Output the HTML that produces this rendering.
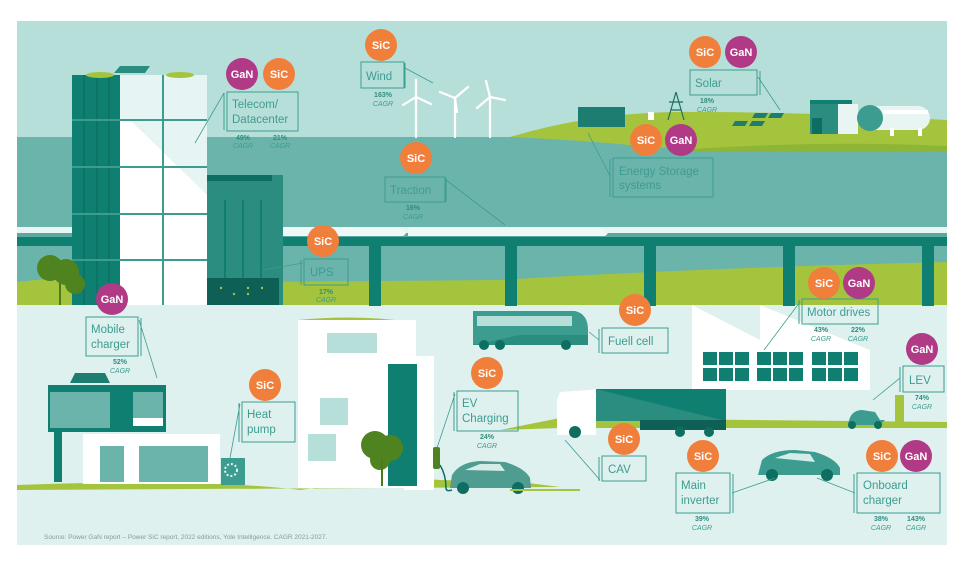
<!DOCTYPE html>
<html><head><meta charset="utf-8"><style>
html,body{margin:0;padding:0;background:#fff;width:965px;height:562px;overflow:hidden}
svg{display:block;font-family:"Liberation Sans",sans-serif}
.lb{fill:none;stroke:#3d9c90;stroke-width:1}
.lt{fill:#3d9c90;font-size:11.5px}
.pc{fill:#2f8d80;font-size:7px;font-weight:bold;text-anchor:middle}
.cg{fill:#3d9c90;font-size:7px;font-style:italic;text-anchor:middle}
.bt{fill:#fff;font-size:11px;font-weight:bold;text-anchor:middle}
.ln{stroke:#3d9c90;stroke-width:0.8;fill:none}
</style></head><body>
<svg width="965" height="562" viewBox="0 0 965 562">
<rect width="965" height="562" fill="#fff"/>
<!-- sky -->
<rect x="17" y="21" width="930" height="120" fill="#b7dfd9"/>
<!-- teal band -->
<rect x="17" y="137" width="930" height="170" fill="#6bb4ab"/>
<!-- top green hill right -->
<path d="M510 137 Q600 110 700 112 Q800 112 947 120 L947 150 Q800 150 700 150 L640 146 Q580 140 510 137Z" fill="#a4c43e"/>
<path d="M680 150 Q820 140 947 146 L947 152 L680 152Z" fill="#8fb536"/>
<!-- lower green hill of middle band -->
<path d="M17 282 Q120 270 250 282 L500 280 Q700 268 947 262 L947 307 L17 307Z" fill="#a4c43e"/>
<!-- lower ground -->
<rect x="17" y="305" width="930" height="240" fill="#def1ef"/>
<!-- train bridge -->
<rect x="17" y="227" width="930" height="6" fill="#e8f5f3"/>
<rect x="17" y="233" width="930" height="4" fill="#5aa89f"/>
<rect x="17" y="237" width="930" height="9" fill="#0e7f70"/>
<g fill="#0e7f70">
<rect x="369" y="246" width="12" height="60"/><rect x="505" y="246" width="12" height="60"/>
<rect x="644" y="246" width="12" height="60"/><rect x="783" y="246" width="12" height="60"/>
<rect x="922" y="246" width="12" height="60"/>
</g>
<!-- wind turbines -->
<g stroke="#fff" stroke-width="2.2" fill="none" stroke-linecap="round">
<line x1="416" y1="97" x2="416" y2="137"/><line x1="416" y1="97" x2="416" y2="80"/><line x1="416" y1="97" x2="403" y2="105"/><line x1="416" y1="97" x2="431" y2="104"/>
<line x1="455" y1="98" x2="455" y2="137"/><line x1="455" y1="98" x2="468" y2="87"/><line x1="455" y1="98" x2="440" y2="92"/><line x1="455" y1="98" x2="457" y2="112"/>
<line x1="490" y1="97" x2="490" y2="137"/><line x1="490" y1="97" x2="486" y2="81"/><line x1="490" y1="97" x2="477" y2="108"/><line x1="490" y1="97" x2="505" y2="100"/>
</g>
<!-- energy storage container, pylon, solar, H2 -->
<rect x="578" y="107" width="47" height="20" fill="#1d7d70"/>
<path d="M676 92 L668 120 M676 92 L684 120 M669 102 L683 102 M671 110 L681 110" stroke="#1d6e63" stroke-width="1.2" fill="none"/>
<rect x="648" y="112" width="6" height="8" fill="#fff"/>
<g fill="#1d7d70"><path d="M735 121 L748 121 L745 126 L732 126Z"/><path d="M752 121 L765 121 L762 126 L749 126Z"/><path d="M755 113 L768 113 L765 118 L752 118Z"/><path d="M771 113 L784 113 L781 118 L768 118Z"/></g>
<rect x="810" y="102" width="42" height="32" fill="#2a8d80"/><rect x="810" y="100" width="42" height="4" fill="#0e7f70"/>
<rect x="812" y="118" width="10" height="16" fill="#0e6e62"/>
<rect x="838" y="104" width="20" height="30" fill="#e8f5f3"/>
<rect x="858" y="106" width="72" height="24" rx="12" fill="#e8f5f3"/>
<circle cx="870" cy="118" r="13" fill="#3d9c90"/>
<rect x="883" y="110" width="45" height="4" fill="#fff"/>
<rect x="890" y="128" width="4" height="8" fill="#fff"/><rect x="918" y="128" width="4" height="8" fill="#fff"/>
<!-- tall building -->
<rect x="72" y="75" width="48" height="230" fill="#0e7f70"/>
<g stroke="#0a6a5d" stroke-width="1"><line x1="84" y1="75" x2="84" y2="305"/><line x1="97" y1="75" x2="97" y2="305"/><line x1="109" y1="75" x2="109" y2="305"/></g>
<rect x="120" y="75" width="87" height="230" fill="#fff"/>
<path d="M120 75 L207 75 L207 195 L130 120 L120 120Z" fill="#e6f5f3"/>
<g stroke="#3d9c90" stroke-width="2"><line x1="163" y1="75" x2="163" y2="305"/>
<line x1="72" y1="120" x2="207" y2="120"/><line x1="72" y1="167" x2="207" y2="167"/><line x1="72" y1="214" x2="207" y2="214"/><line x1="72" y1="260" x2="207" y2="260"/></g>
<path d="M114 73 L120 66 L150 66 L145 73Z" fill="#2a8d80"/>
<ellipse cx="100" cy="75" rx="14" ry="3" fill="#a4c43e"/><ellipse cx="180" cy="75" rx="14" ry="3" fill="#a4c43e"/>
<!-- second building -->
<rect x="207" y="175" width="76" height="130" fill="#2a8d80"/>
<rect x="207" y="175" width="65" height="6" fill="#0e6e62"/>
<g stroke="#0e7f70" stroke-width="2"><line x1="225" y1="200" x2="225" y2="280"/><line x1="243" y1="200" x2="243" y2="280"/><line x1="261" y1="200" x2="261" y2="280"/></g>
<rect x="207" y="278" width="72" height="27" fill="#0e5f55"/>
<g fill="#a4c43e"><circle cx="221" cy="288" r="1.2"/><circle cx="234" cy="294" r="1.2"/><circle cx="248" cy="288" r="1.2"/><circle cx="248" cy="294" r="1.2"/><circle cx="262" cy="288" r="1.2"/></g>
<!-- tree left -->
<path d="M60 305 L60 275" stroke="#4e7a1e" stroke-width="2"/>
<circle cx="50" cy="268" r="13" fill="#4f8320"/><circle cx="66" cy="272" r="13" fill="#4f8320"/><circle cx="75" cy="284" r="10" fill="#4f8320"/>
<!-- train body -->
<path d="M283 228 L400 228 Q410 232 403 236 L283 236Z" fill="#eef8f6"/>
<path d="M408 228 L600 228 Q612 232 605 236 L408 236Z" fill="#eef8f6"/>
<!-- lower scene: house left -->
<path d="M17 485 Q200 478 300 490 Q400 476 440 480 L520 482 L560 487 L17 490Z" fill="#a4c43e"/>
<rect x="48" y="385" width="118" height="47" fill="#0e7f70"/>
<rect x="50" y="392" width="60" height="36" fill="#6bb4ab"/><rect x="133" y="392" width="30" height="26" fill="#6bb4ab"/><rect x="133" y="418" width="30" height="8" fill="#fff"/>
<rect x="54" y="432" width="8" height="50" fill="#0e7f70"/>
<rect x="83" y="434" width="137" height="50" fill="#fff"/>
<rect x="100" y="446" width="24" height="36" fill="#6bb4ab"/><rect x="139" y="446" width="69" height="36" fill="#6bb4ab"/>
<path d="M70 383 L75 373 L105 373 L110 383Z" fill="#1d7d70"/>
<rect x="221" y="458" width="24" height="27" fill="#3d9c90"/><circle cx="231" cy="470" r="6" fill="none" stroke="#e6f5f3" stroke-width="2" stroke-dasharray="2 2"/>
<!-- house middle -->
<rect x="298" y="320" width="118" height="168" fill="#fff"/>
<rect x="327" y="333" width="50" height="20" fill="#b7dfd9"/>
<rect x="320" y="398" width="28" height="27" fill="#b7dfd9"/><rect x="308" y="434" width="28" height="27" fill="#b7dfd9"/>
<rect x="404" y="356" width="30" height="134" fill="#fff"/>
<rect x="388" y="364" width="29" height="122" fill="#0e7f70"/>
<path d="M298 320 Q350 315 395 320 Z" fill="#a4c43e"/>
<circle cx="375" cy="445" r="14" fill="#4f8320"/><circle cx="390" cy="448" r="13" fill="#4f8320"/><circle cx="380" cy="460" r="10" fill="#4f8320"/>
<line x1="382" y1="460" x2="382" y2="486" stroke="#4e7a1e" stroke-width="2"/>
<!-- charger & car left -->
<rect x="433" y="447" width="7" height="22" rx="2" fill="#4f8320"/>
<path d="M440 465 Q446 475 446 488 Q446 492 452 490" stroke="#0e6e62" stroke-width="1.5" fill="none"/>
<path d="M450 488 L452 475 Q460 462 480 461 L505 462 Q525 468 530 478 L531 488Z" fill="#4f9c90"/>
<path d="M465 470 L480 464 L500 464 L505 471Z" fill="#d5ede9"/>
<circle cx="463" cy="488" r="6" fill="#0e6e62"/><circle cx="518" cy="488" r="6" fill="#0e6e62"/>
<path d="M510 490 L580 490" stroke="#a4c43e" stroke-width="2"/>
<!-- bus -->
<path d="M473 311 L575 311 Q588 314 588 330 L588 345 L473 345Z" fill="#3d9c90"/>
<rect x="477" y="316" width="95" height="10" fill="#b7dfd9"/>
<path d="M473 345 L588 345 L588 335 L520 335Z" fill="#2a8d80"/>
<circle cx="484" cy="345" r="5" fill="#0e6e62"/><circle cx="500" cy="345" r="5" fill="#0e6e62"/><circle cx="566" cy="345" r="5" fill="#0e6e62"/>
<!-- factory -->
<path d="M692 305 L760 340 L760 305 L870 350 L870 390 L692 390Z" fill="#fff"/>
<g fill="#0e7f70">
<rect x="703" y="352" width="14" height="13"/><rect x="719" y="352" width="14" height="13"/><rect x="735" y="352" width="14" height="13"/>
<rect x="757" y="352" width="14" height="13"/><rect x="773" y="352" width="14" height="13"/><rect x="789" y="352" width="14" height="13"/>
<rect x="812" y="352" width="14" height="13"/><rect x="828" y="352" width="14" height="13"/><rect x="844" y="352" width="14" height="13"/>
<rect x="703" y="368" width="14" height="13"/><rect x="719" y="368" width="14" height="13"/><rect x="735" y="368" width="14" height="13"/>
<rect x="757" y="368" width="14" height="13"/><rect x="773" y="368" width="14" height="13"/><rect x="789" y="368" width="14" height="13"/>
<rect x="812" y="368" width="14" height="13"/><rect x="828" y="368" width="14" height="13"/><rect x="844" y="368" width="14" height="13"/>
</g>
<path d="M500 430 L560 418 L947 422 L947 428 L560 428Z" fill="#a4c43e"/>
<!-- truck -->
<rect x="596" y="389" width="130" height="32" fill="#2a8d80"/>
<path d="M596 389 L726 389 L726 421Z" fill="#0e7f70"/>
<rect x="640" y="420" width="86" height="10" fill="#0e5f55"/>
<path d="M560 392 L590 390 L596 389 L596 435 L557 435 L557 400Z" fill="#fff"/>
<circle cx="575" cy="432" r="6" fill="#0e6e62"/><circle cx="680" cy="432" r="5" fill="#0e6e62"/><circle cx="709" cy="432" r="5" fill="#0e6e62"/>
<!-- scooter & charger -->
<rect x="895" y="395" width="9" height="30" fill="#a4c43e"/>
<path d="M848 425 Q850 410 862 410 L875 412 L880 420 L885 420 L880 425Z" fill="#3d9c90"/>
<circle cx="852" cy="425" r="4" fill="#0e6e62"/><circle cx="878" cy="425" r="4" fill="#0e6e62"/>
<!-- car right -->
<path d="M758 475 L762 460 Q772 450 795 450 L815 452 Q835 458 840 468 L840 475Z" fill="#3d9c90"/>
<path d="M775 458 L790 453 L810 454 L815 462Z" fill="#d5ede9"/>
<circle cx="772" cy="475" r="6" fill="#0e6e62"/><circle cx="827" cy="475" r="6" fill="#0e6e62"/>

<!-- LEADER LINES -->
<g class="ln">
<path d="M224 93 L195 143"/><path d="M405 68 L433 83"/><path d="M446 180 L505 225"/><path d="M303 263 L263 270"/>
<path d="M758 77 L780 110"/><path d="M610 176 L588 133"/><path d="M139 320 L157 378"/><path d="M240 404 L230 458"/>
<path d="M455 394 L437 448"/><path d="M599 340 L589 332"/><path d="M800 302 L764 350"/><path d="M900 378 L873 400"/>
<path d="M600 480 L565 440"/><path d="M732 493 L775 478"/><path d="M855 493 L817 478"/>
</g>

<!-- LABEL BOXES -->
<g class="lb">
<rect x="227" y="92" width="71" height="39"/><line x1="224" y1="93" x2="224" y2="130"/>
<rect x="361" y="62" width="43" height="26"/><line x1="405" y1="63" x2="405" y2="88"/>
<rect x="385" y="177" width="60" height="25"/><line x1="446" y1="178" x2="446" y2="202"/>
<rect x="304" y="259" width="44" height="26"/><line x1="301" y1="260" x2="301" y2="285"/>
<rect x="690" y="70" width="67" height="25"/><line x1="760" y1="71" x2="760" y2="95"/>
<rect x="613" y="158" width="100" height="39"/><line x1="610" y1="159" x2="610" y2="197"/>
<rect x="86" y="317" width="52" height="39"/><line x1="141" y1="318" x2="141" y2="356"/>
<rect x="242" y="402" width="53" height="40"/><line x1="239" y1="403" x2="239" y2="442"/>
<rect x="457" y="391" width="61" height="40"/><line x1="454" y1="392" x2="454" y2="431"/>
<rect x="602" y="328" width="66" height="25"/><line x1="599" y1="329" x2="599" y2="353"/>
<rect x="802" y="299" width="76" height="25"/><line x1="799" y1="300" x2="799" y2="324"/>
<rect x="903" y="366" width="41" height="26"/><line x1="900" y1="367" x2="900" y2="392"/>
<rect x="602" y="456" width="44" height="25"/><line x1="599" y1="457" x2="599" y2="481"/>
<rect x="676" y="473" width="54" height="40"/><line x1="733" y1="474" x2="733" y2="513"/>
<rect x="857" y="473" width="83" height="40"/><line x1="854" y1="474" x2="854" y2="513"/>
</g>
<g class="lt">
<text x="232" y="108">Telecom/</text><text x="232" y="123">Datacenter</text>
<text x="366" y="80">Wind</text>
<text x="390" y="194">Traction</text>
<text x="310" y="276">UPS</text>
<text x="695" y="87">Solar</text>
<text x="619" y="175">Energy Storage</text><text x="619" y="189">systems</text>
<text x="91" y="333">Mobile</text><text x="91" y="348">charger</text>
<text x="247" y="418">Heat</text><text x="247" y="433">pump</text>
<text x="462" y="407">EV</text><text x="462" y="422">Charging</text>
<text x="608" y="345">Fuell cell</text>
<text x="807" y="316">Motor drives</text>
<text x="909" y="384">LEV</text>
<text x="608" y="473">CAV</text>
<text x="681" y="489">Main</text><text x="681" y="504">inverter</text>
<text x="863" y="489">Onboard</text><text x="863" y="504">charger</text>
</g>
<!-- CAGR -->
<g>
<text class="pc" x="243" y="140">49%</text><text class="cg" x="243" y="148">CAGR</text>
<text class="pc" x="280" y="140">21%</text><text class="cg" x="280" y="148">CAGR</text>
<text class="pc" x="383" y="97">163%</text><text class="cg" x="383" y="106">CAGR</text>
<text class="pc" x="413" y="210">16%</text><text class="cg" x="413" y="219">CAGR</text>
<text class="pc" x="326" y="294">17%</text><text class="cg" x="326" y="302">CAGR</text>
<text class="pc" x="707" y="103">18%</text><text class="cg" x="707" y="112">CAGR</text>
<text class="pc" x="120" y="364">52%</text><text class="cg" x="120" y="373">CAGR</text>
<text class="pc" x="487" y="439">24%</text><text class="cg" x="487" y="448">CAGR</text>
<text class="pc" x="821" y="332">43%</text><text class="cg" x="821" y="341">CAGR</text>
<text class="pc" x="858" y="332">22%</text><text class="cg" x="858" y="341">CAGR</text>
<text class="pc" x="922" y="400">74%</text><text class="cg" x="922" y="409">CAGR</text>
<text class="pc" x="702" y="521">39%</text><text class="cg" x="702" y="530">CAGR</text>
<text class="pc" x="881" y="521">38%</text><text class="cg" x="881" y="530">CAGR</text>
<text class="pc" x="916" y="521">143%</text><text class="cg" x="916" y="530">CAGR</text>
</g>
<!-- BADGES -->
<g>
<circle cx="242" cy="74" r="16" fill="#b03a85"/><text class="bt" x="242" y="78">GaN</text>
<circle cx="279" cy="74" r="16" fill="#f07f3c"/><text class="bt" x="279" y="78">SiC</text>
<circle cx="381" cy="45" r="16" fill="#f07f3c"/><text class="bt" x="381" y="49">SiC</text>
<circle cx="416" cy="158" r="16" fill="#f07f3c"/><text class="bt" x="416" y="162">SiC</text>
<circle cx="323" cy="241" r="16" fill="#f07f3c"/><text class="bt" x="323" y="245">SiC</text>
<circle cx="705" cy="52" r="16" fill="#f07f3c"/><text class="bt" x="705" y="56">SiC</text>
<circle cx="741" cy="52" r="16" fill="#b03a85"/><text class="bt" x="741" y="56">GaN</text>
<circle cx="646" cy="140" r="16" fill="#f07f3c"/><text class="bt" x="646" y="144">SiC</text>
<circle cx="681" cy="140" r="16" fill="#b03a85"/><text class="bt" x="681" y="144">GaN</text>
<circle cx="112" cy="299" r="16" fill="#b03a85"/><text class="bt" x="112" y="303">GaN</text>
<circle cx="265" cy="385" r="16" fill="#f07f3c"/><text class="bt" x="265" y="389">SiC</text>
<circle cx="487" cy="373" r="16" fill="#f07f3c"/><text class="bt" x="487" y="377">SiC</text>
<circle cx="635" cy="310" r="16" fill="#f07f3c"/><text class="bt" x="635" y="314">SiC</text>
<circle cx="824" cy="283" r="16" fill="#f07f3c"/><text class="bt" x="824" y="287">SiC</text>
<circle cx="859" cy="283" r="16" fill="#b03a85"/><text class="bt" x="859" y="287">GaN</text>
<circle cx="922" cy="349" r="16" fill="#b03a85"/><text class="bt" x="922" y="353">GaN</text>
<circle cx="624" cy="439" r="16" fill="#f07f3c"/><text class="bt" x="624" y="443">SiC</text>
<circle cx="703" cy="456" r="16" fill="#f07f3c"/><text class="bt" x="703" y="460">SiC</text>
<circle cx="882" cy="456" r="16" fill="#f07f3c"/><text class="bt" x="882" y="460">SiC</text>
<circle cx="916" cy="456" r="16" fill="#b03a85"/><text class="bt" x="916" y="460">GaN</text>
</g>
<text x="44" y="539" fill="#8a9a98" font-size="6.5">Source: Power GaN report – Power SiC report, 2022 editions, Yole Intelligence. CAGR 2021-2027.</text>
</svg>
</body></html>
